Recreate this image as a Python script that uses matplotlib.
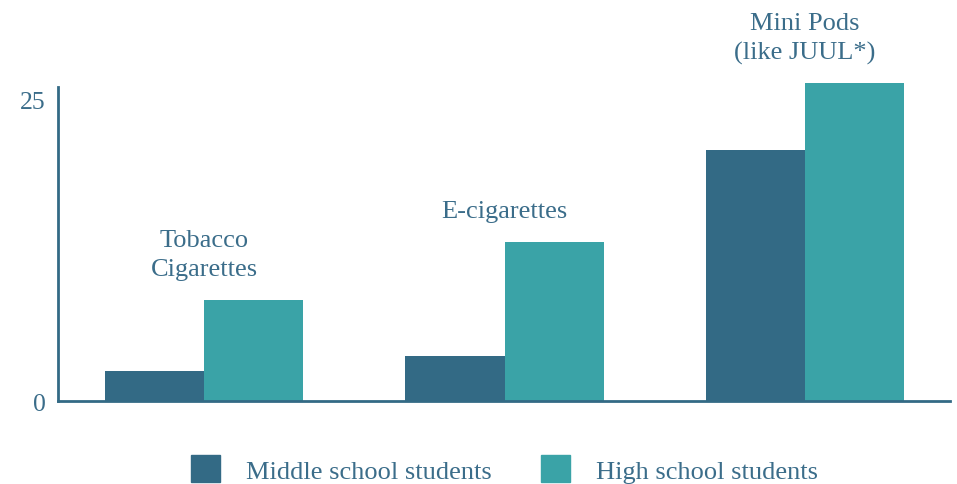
"""Youth tobacco product use: middle vs high school students."""

import matplotlib

matplotlib.use("Agg")

import matplotlib.pyplot as plt
from matplotlib.patches import Patch
import numpy as np


CATEGORIES = ["Tobacco\nCigarettes", "E-cigarettes", "Mini Pods\n(like JUUL*)"]
MIDDLE_SCHOOL = [2.5, 3.7, 20.8]
HIGH_SCHOOL = [8.4, 13.2, 26.3]
SERIES_NAMES = ["Middle school students", "High school students"]

DARK = "#336a85"
TEAL = "#3aa3a7"
TEXT = "#3b6d8a"


def main() -> None:
    plt.rcParams["font.family"] = ["Liberation Serif", "DejaVu Serif"]

    fig = plt.figure(figsize=(9.57, 4.85), dpi=100)
    ax = fig.add_axes([0.0606, 0.1711, 0.9321, 0.6475])

    x = np.arange(len(CATEGORIES))
    width = 0.33
    ax.bar(x - width / 2, MIDDLE_SCHOOL, width, color=DARK, clip_on=False)
    ax.bar(x + width / 2, HIGH_SCHOOL, width, color=TEAL, clip_on=False)

    for xi, label, mid, high in zip(x, CATEGORIES, MIDDLE_SCHOOL, HIGH_SCHOOL):
        ax.annotate(label, (xi, max(mid, high)), xytext=(0, 14),
                    textcoords="offset points", ha="center", va="bottom",
                    fontsize=19, color=TEXT, linespacing=1.4,
                    annotation_clip=False)

    ax.set_xlim(-0.486, 2.4825)
    ax.set_ylim(0, 26)
    ax.set_yticks([0, 25])
    ax.set_xticks([])
    ax.tick_params(axis="y", length=0, labelsize=18.5, labelcolor=TEXT, pad=9)
    for side in ["top", "right"]:
        ax.spines[side].set_visible(False)
    for side in ["left", "bottom"]:
        ax.spines[side].set_color(DARK)
        ax.spines[side].set_linewidth(2)

    handles = [Patch(color=DARK), Patch(color=TEAL)]
    fig.legend(handles, SERIES_NAMES, loc="center", bbox_to_anchor=(0.527, 0.031),
               ncol=2, frameon=False, fontsize=19, labelcolor=TEXT,
               handlelength=1.1, handleheight=1.2, handletextpad=1.0,
               columnspacing=1.85)

    fig.savefig("out.png", dpi=100)
    plt.close(fig)


if __name__ == "__main__":
    main()
